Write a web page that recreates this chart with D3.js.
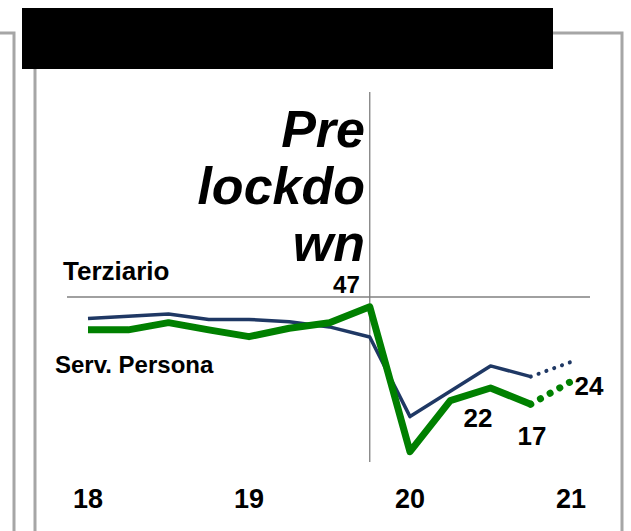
<!DOCTYPE html>
<html>
<head>
<meta charset="utf-8">
<script src="https://cdn.jsdelivr.net/npm/d3@7"></script>
<style>
body{margin:0;background:#fff;}
text{font-family:"Liberation Sans",Arial,sans-serif;font-weight:bold;fill:#000;}
</style>
</head>
<body>
<div class="let"></div>
<script>
// quarters 2018Q1 .. 2020Q4, then 2021Q1 forecast
let quarters=[2018,2018.25,2018.5,2018.75,2019,2019.25,2019.5,2019.75,2020,2020.25,2020.5,2020.75]
let terziario=[43.4,44.1,44.8,43.1,43.1,42.4,40.8,37.7,13.2,21.0,28.8,25.5]
let servPersona=[39.9,39.9,42.1,39.9,37.8,40.4,42.1,47,2.4,18.1,22,17]
let forecastX=[2020.75,2021]
let terziarioFc=[25.5,30]
let servPersonaFc=[17,24]
let years=[2018,2019,2020,2021]
let yearLabels=['18','19','20','21']

let w=631,h=531
let xScale=d3.scaleLinear().domain([2018,2021]).range([88,571])
let yScale=d3.scaleLinear().domain([0,50]).range([459.5,297])

let svg=d3.select('.let').append('svg').attr('width',w).attr('height',h)

// frame
let grey='#a6a6a6'
svg.append('path').attr('d','M0,33H14V531').attr('fill','none').attr('stroke',grey).attr('stroke-width',3)
svg.append('path').attr('d','M553,33H622V531').attr('fill','none').attr('stroke',grey).attr('stroke-width',3)
svg.append('line').attr('x1',35).attr('x2',35).attr('y1',69).attr('y2',531).attr('stroke',grey).attr('stroke-width',3)
svg.append('rect').attr('x',22).attr('y',8).attr('width',531).attr('height',61).attr('fill','#000')

// reference lines
svg.append('line').attr('x1',67).attr('x2',590).attr('y1',yScale(50)).attr('y2',yScale(50)).attr('stroke','#808080').attr('stroke-width',1.3)
svg.append('line').attr('x1',xScale(2019.75)).attr('x2',xScale(2019.75)).attr('y1',92).attr('y2',462).attr('stroke','#808080').attr('stroke-width',1.3)

let line=d3.line().x(d=>xScale(d[0])).y(d=>yScale(d[1]))

svg.append('path').datum(quarters.map((q,i)=>[q,terziario[i]])).attr('d',line)
    .attr('fill','none').attr('stroke','#1f3864').attr('stroke-width',3.5).attr('stroke-linejoin','round')
svg.append('path').datum(quarters.map((q,i)=>[q,servPersona[i]])).attr('d',line)
    .attr('fill','none').attr('stroke','#008000').attr('stroke-width',7).attr('stroke-linejoin','round')

svg.append('path').datum(forecastX.map((q,i)=>[q,terziarioFc[i]])).attr('d',line)
    .attr('fill','none').attr('stroke','#1f3864').attr('stroke-width',4).attr('stroke-linecap','round').attr('stroke-dasharray','0.1 8.2')
svg.append('path').datum(forecastX.map((q,i)=>[q,servPersonaFc[i]])).attr('d',line)
    .attr('fill','none').attr('stroke','#008000').attr('stroke-width',7).attr('stroke-linecap','round').attr('stroke-dasharray','0.1 11')

// labels
svg.append('text').text('Terziario').attr('x',63).attr('y',280).style('font-size','26px')
svg.append('text').text('Serv. Persona').attr('x',55).attr('y',373).style('font-size','24px')
let pre=['Pre','lockdo','wn']
svg.selectAll('.pre').data(pre).enter().append('text').attr('class','pre').text(d=>d)
    .attr('x',365).attr('y',(d,i)=>147+i*57).attr('text-anchor','end')
    .style('font-size','52px').style('font-style','italic')
svg.append('text').text(servPersona[7]).attr('x',xScale(2019.75)-10).attr('y',293).attr('text-anchor','end').style('font-size','24px')
svg.append('text').text(servPersona[10]).attr('x',478).attr('y',427).attr('text-anchor','middle').style('font-size','26px')
svg.append('text').text(servPersona[11]).attr('x',532).attr('y',445).attr('text-anchor','middle').style('font-size','26px')
svg.append('text').text(servPersonaFc[1]).attr('x',589).attr('y',395).attr('text-anchor','middle').style('font-size','26px')

svg.selectAll('.yr').data(years).enter().append('text').attr('class','yr').text((d,i)=>yearLabels[i])
    .attr('x',d=>xScale(d)).attr('y',508).attr('text-anchor','middle').style('font-size','27px')
</script>
</body>
</html>
